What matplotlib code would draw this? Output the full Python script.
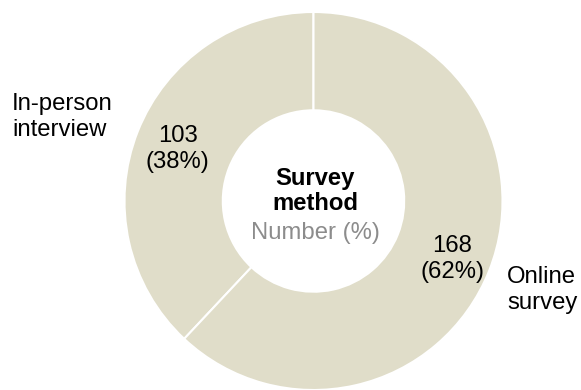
import matplotlib
matplotlib.use("Agg")
from matplotlib import pyplot as plt

plt.rcParams['font.family'] = ['Liberation Sans', 'DejaVu Sans']

# survey method split
labels = ["In-person\ninterview", "Online\nsurvey"]
counts = [103, 168]
pcts = [38, 62]

W, H = 581, 390
fig = plt.figure(figsize=(W / 100, H / 100), dpi=100)

# donut: centre at (313.5, 201) px from top-left, outer radius ~189 px
cx, cy, r = 313.5, 201, 189
ax = fig.add_axes([(cx - r) / W, (H - cy - r) / H, 2 * r / W, 2 * r / H])
ax.pie(counts, startangle=90, counterclock=True, colors=["#e0ddc9", "#e0ddc9"],
       radius=1, wedgeprops=dict(width=0.52, edgecolor="white", linewidth=1.5))
ax.set_xlim(-1, 1)
ax.set_ylim(-1, 1)
ax.set_aspect("equal")
ax.axis("off")

def px(x, y):
    return x / W, 1 - y / H

fs = 17.2
# outer labels
fig.text(*px(12, 117), labels[0], ha="left", va="center", fontsize=fs, linespacing=1.18)
fig.text(*px(507, 290), labels[1], ha="left", va="center", fontsize=fs, linespacing=1.18)

# value labels
fig.text(*px(177.5, 149), f"{counts[0]}\n({pcts[0]}%)", ha="center", va="center",
         fontsize=fs, linespacing=1.22)
fig.text(*px(452, 259), f"{counts[1]}\n({pcts[1]}%)", ha="center", va="center",
         fontsize=fs, linespacing=1.22)

# centre title
fig.text(*px(315, 191), "Survey\nmethod", ha="center", va="center", fontsize=fs,
         fontweight="bold", linespacing=1.15)
fig.text(*px(315, 233), "Number (%)", ha="center", va="center", fontsize=fs,
         color="#8c8c8c")

fig.savefig("out.png", dpi=100)
